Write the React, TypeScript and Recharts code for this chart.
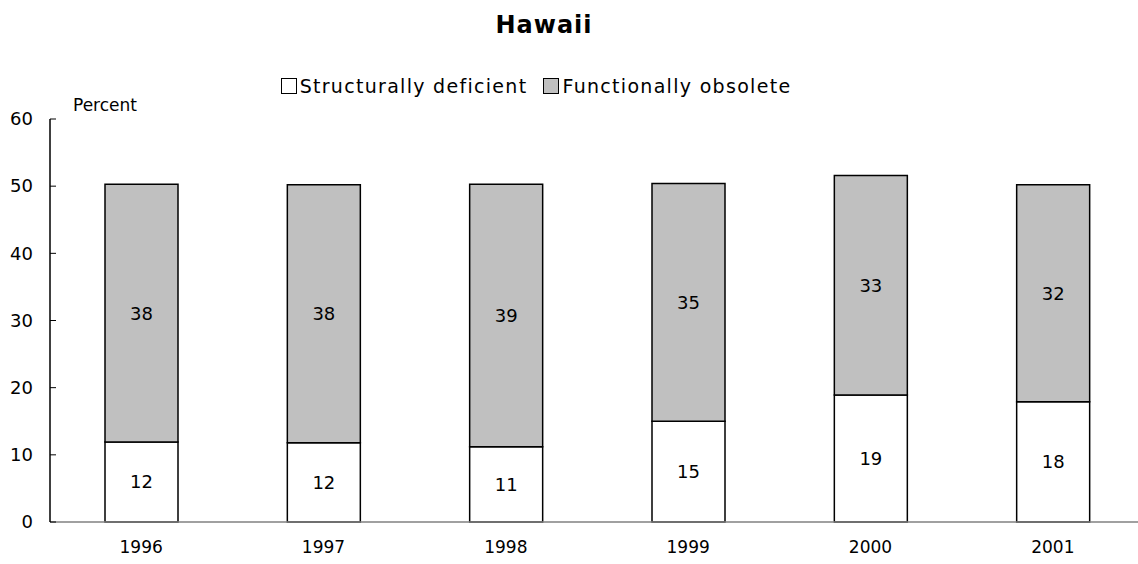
import React from "react";
import { BarChart, Bar, XAxis, YAxis, LabelList } from "recharts";

const years = ["1996", "1997", "1998", "1999", "2000", "2001"];
const structurallyDeficient = [11.9, 11.8, 11.2, 15.0, 18.9, 17.9];
const functionallyObsolete = [38.4, 38.4, 39.1, 35.4, 32.7, 32.3];
const yTicks = [0, 10, 20, 30, 40, 50, 60];

const FONT = "'DejaVu Sans', sans-serif";
const GRAY = "#c0c0c0";

const data = years.map((y, i) => ({
  year: y,
  sd: structurallyDeficient[i],
  fo: functionallyObsolete[i],
}));

const YTick = (props: any) => {
  const { x, y, payload } = props;
  // tick marks point into the plot area
  return (
    <g>
      <line x1={x + 17} x2={x + 23} y1={y} y2={y} stroke="#000" strokeWidth={1} />
      <text x={x} y={y} dy="0.35em" textAnchor="end" fontSize={18} fill="#000" fontFamily={FONT}>
        {payload.value}
      </text>
    </g>
  );
};

const round = (v: any) => Math.round(Number(v));

export default function App() {
  return (
    <div style={{ position: "absolute", left: 0, top: 0, width: 1138, height: 564, overflow: "hidden", background: "#fff", fontFamily: FONT }}>
      <div style={{ position: "absolute", top: 11, width: 1088, textAlign: "center", fontWeight: "bold", fontSize: 24, letterSpacing: 1 }}>
        Hawaii
      </div>
      <div style={{ position: "absolute", top: 75, width: 1072, left: 0, display: "flex", justifyContent: "center", gap: 16, fontSize: 19, letterSpacing: 1.3 }}>
        <span style={{ display: "flex", alignItems: "center", gap: 3 }}>
          <span style={{ width: 14, height: 14, border: "1px solid #000", background: "#fff", display: "inline-block" }} />
          Structurally deficient
        </span>
        <span style={{ display: "flex", alignItems: "center", gap: 3 }}>
          <span style={{ width: 14, height: 14, border: "1px solid #000", background: GRAY, display: "inline-block" }} />
          Functionally obsolete
        </span>
      </div>
      <BarChart width={1144} height={564} data={data} margin={{ top: 119, right: 0, bottom: 0, left: 0 }}>
        <XAxis
          dataKey="year"
          height={42}
          tickSize={0}
          tickMargin={19}
          axisLine={{ stroke: "#808080", strokeWidth: 1.5 }}
          tick={{ fill: "#000", fontSize: 17, fontFamily: FONT }}
        />
        <YAxis
          width={50}
          domain={[0, 60]}
          ticks={yTicks}
          tickSize={0}
          tickMargin={17}
          tickLine={false}
          axisLine={{ stroke: "#000", strokeWidth: 1.5 }}
          tick={<YTick />}
          interval={0}
          label={{
            content: () => (
              <text x={73} y={111} fontSize={17} fontFamily={FONT} fill="#000">Percent</text>
            ),
          }}
        />
        <Bar dataKey="sd" stackId="a" fill="#fff" stroke="#000" strokeWidth={1.5} barSize={73} isAnimationActive={false}>
          <LabelList dataKey="sd" position="center" formatter={round} fill="#000" fontSize={18} fontFamily={FONT} />
        </Bar>
        <Bar dataKey="fo" stackId="a" fill={GRAY} stroke="#000" strokeWidth={1.5} barSize={73} isAnimationActive={false}>
          <LabelList dataKey="fo" position="center" formatter={round} fill="#000" fontSize={18} fontFamily={FONT} />
        </Bar>
      </BarChart>
    </div>
  );
}
